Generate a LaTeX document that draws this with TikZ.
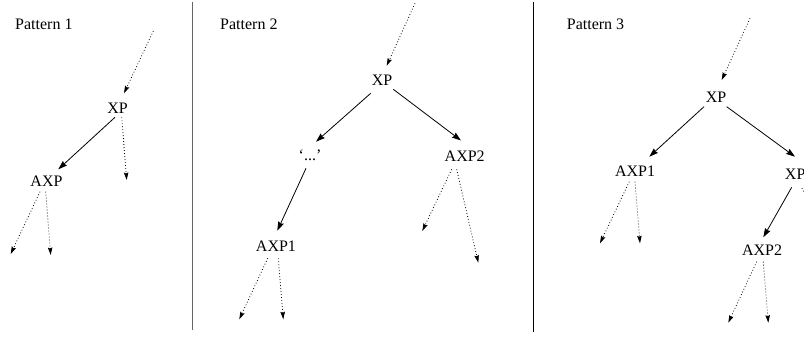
\documentclass[tikz,border=0pt]{standalone}
\usepackage{fontspec}
\setmainfont{Liberation Serif}
\usetikzlibrary{arrows.meta,calc}
\begin{document}
\begin{tikzpicture}[x=1pt,y=-1pt,
  lbl/.style={inner sep=0pt,anchor=base,font=\fontsize{16}{19}\selectfont},
  ttl/.style={inner sep=0pt,anchor=base west,font=\fontsize{16}{19}\selectfont},
  solidarr/.style={line width=0.8pt,-{Stealth[length=9pt,width=6pt,inset=1pt]}},
  dotarr/.style={line width=0.8pt,dash pattern=on 0.8pt off 2.2pt,-{Stealth[length=7.5pt,width=4.5pt,inset=1pt]}},
  divider/.style={line width=1pt}]
\useasboundingbox (0,0) rectangle (804,338);

% dividers
\draw[divider,black!60] (192,1.7) -- (192,330);
\draw[divider] (533.3,1.7) -- (533.3,331.7);

% titles
\node[ttl] (t1) at (15,29.3) {Pattern 1};
\node[ttl] (t2) at (220,29.3) {Pattern 2};
\node[ttl] (t3) at (566.7,29.3) {Pattern 3};

% ---------- Pattern 1 ----------
\node[lbl] (p1xp) at (117.5,113.3) {XP};
\node[lbl] (p1axp) at (46.5,186) {AXP};
\coordinate (p1top) at (153.3,31);
\coordinate (p1xpr) at (126.7,180);
\coordinate (p1axpl) at (10.7,254);
\coordinate (p1axpr) at (50.7,255);
\draw[dotarr] (p1top) -- ($(p1xp.base)+(6.5,-20)$);
\draw[solidarr] ($(p1xp.base)+(-2.5,4)$) -- ($(p1axp.base)+(11.8,-16.7)$);
\draw[dotarr] ($(p1xp.base)+(4.2,4)$) -- (p1xpr);
\draw[dotarr] ($(p1axp.base)+(-6.5,5.7)$) -- (p1axpl);
\draw[dotarr] ($(p1axp.base)+(-0.8,5.7)$) -- (p1axpr);

% ---------- Pattern 2 ----------
\node[lbl] (p2xp) at (382,85) {XP};
\node[lbl] (p2dots) at (310,160) {‘...’};
\node[lbl] (p2axp1) at (276,251) {AXP1};
\node[lbl] (p2axp2) at (464.7,161.7) {AXP2};
\coordinate (p2top) at (415,3.3);
\coordinate (p2a1l) at (239.3,319.3);
\coordinate (p2a1r) at (283.3,319.3);
\coordinate (p2a2l) at (422.3,231);
\coordinate (p2a2r) at (478.3,262.7);
\draw[dotarr] (p2top) -- ($(p2xp.base)+(4.7,-19.3)$);
\draw[solidarr] ($(p2xp.base)+(-11.3,8.3)$) -- ($(p2dots.base)+(6,-18.3)$);
\draw[solidarr] ($(p2xp.base)+(11.3,4.3)$) -- ($(p2axp2.base)+(-3.7,-21.2)$);
\draw[solidarr] ($(p2dots.base)+(-4,8.3)$) -- ($(p2axp1.base)+(1.3,-20.3)$);
\draw[dotarr] ($(p2axp1.base)+(-8.3,7.3)$) -- (p2a1l);
\draw[dotarr] ($(p2axp1.base)+(2.3,7.3)$) -- (p2a1r);
\draw[dotarr] ($(p2axp2.base)+(-13,7.6)$) -- (p2a2l);
\draw[dotarr] ($(p2axp2.base)+(-8,7.6)$) -- (p2a2r);

% ---------- Pattern 3 ----------
\node[lbl] (p3xp) at (716,102.7) {XP};
\node[lbl] (p3axp1) at (635,176) {AXP1};
\node[lbl] (p3xp2) at (795.2,179.3) {XP};
\node[lbl] (p3axp2) at (762,255.7) {AXP2};
\coordinate (p3top) at (750,18.3);
\coordinate (p3a1l) at (600,243.3);
\coordinate (p3a1r) at (640,243.3);
\coordinate (p3a2l) at (728.3,322.7);
\coordinate (p3a2r) at (768.3,322.7);
\coordinate (p3xp2r) at (830,250);
\draw[dotarr] (p3top) -- ($(p3xp.base)+(5.7,-22.7)$);
\draw[solidarr] ($(p3xp.base)+(-12,4)$) -- ($(p3axp1.base)+(14.3,-19.3)$);
\draw[solidarr] ($(p3xp.base)+(10.7,4)$) -- ($(p3xp2.base)+(-0.2,-22.6)$);
\draw[solidarr] ($(p3xp2.base)+(-3.5,8)$) -- ($(p3axp2.base)+(1.3,-18.4)$);
\draw[dotarr] ($(p3xp2.base)+(6.8,8.7)$) -- (p3xp2r);
\draw[dotarr] ($(p3axp1.base)+(-5.7,5.7)$) -- (p3a1l);
\draw[dotarr] ($(p3axp1.base)+(0,5.7)$) -- (p3a1r);
\draw[dotarr] ($(p3axp2.base)+(-5.3,6)$) -- (p3a2l);
\draw[dotarr] ($(p3axp2.base)+(1.3,6)$) -- (p3a2r);
\end{tikzpicture}
\end{document}
